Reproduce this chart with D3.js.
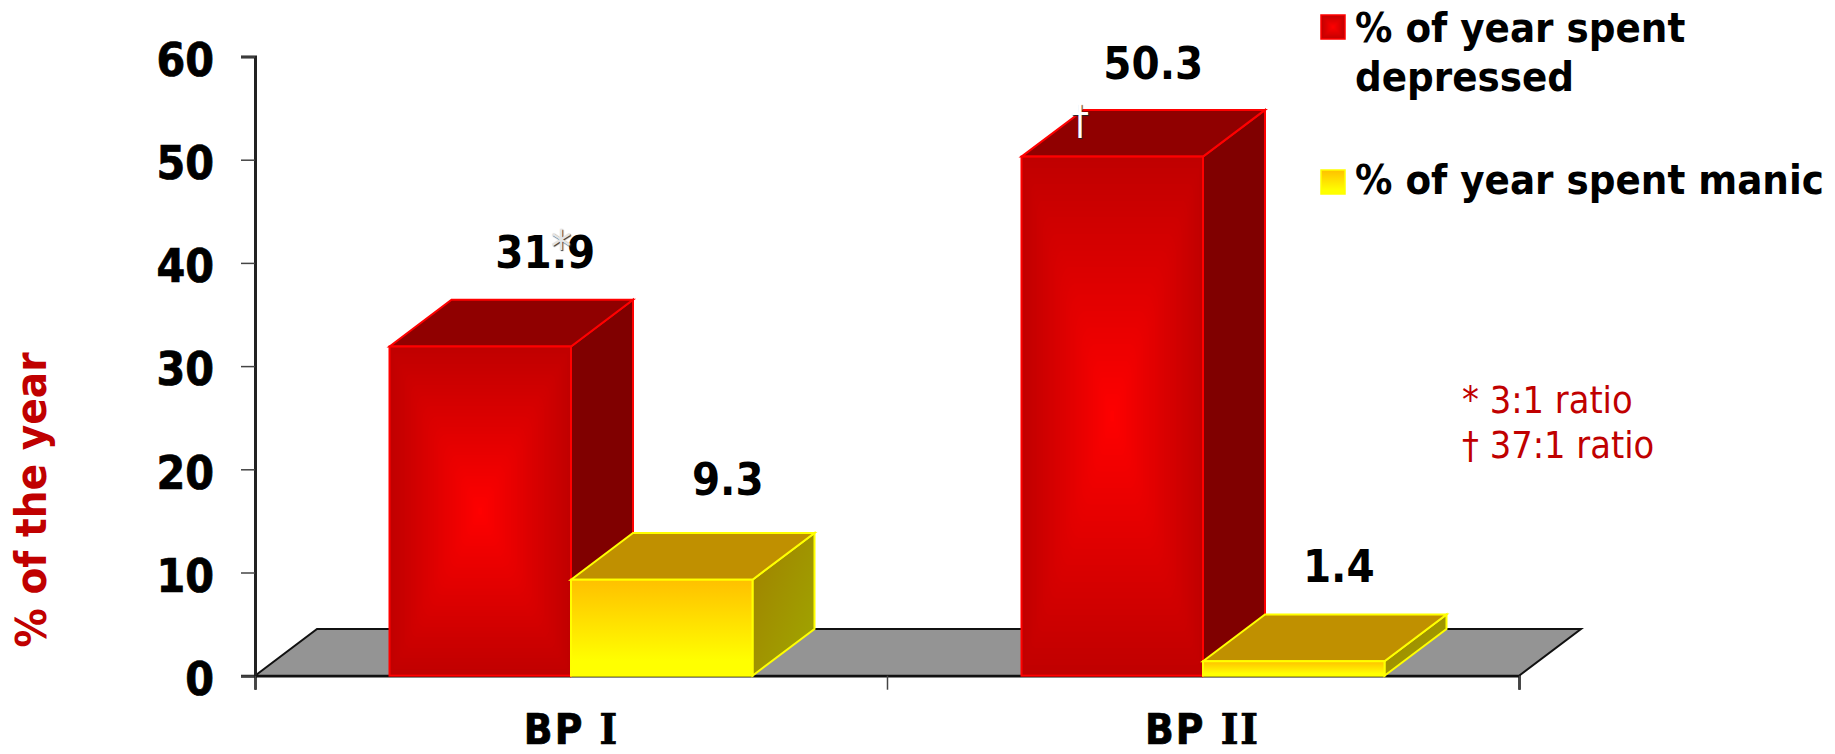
<!DOCTYPE html>
<html>
<head>
<meta charset="utf-8">
<script src="https://cdn.jsdelivr.net/npm/d3@7/dist/d3.min.js"></script>
<style>
html, body { margin: 0; padding: 0; background: #fff; }
svg { display: block; }
text { font-family: "DejaVu Sans", Verdana, sans-serif; font-stretch: condensed; }
.strong { font-weight: 700; }
</style>
</head>
<body>
<svg id="chart" width="1835" height="754"></svg>
<script>
// Chart values
const categories = ["BP I", "BP II"];
const seriesNames = ["% of year spent depressed", "% of year spent manic"];
const depressed = [31.9, 50.3];
const manic = [9.3, 1.4];
const yTicks = [0, 10, 20, 30, 40, 50, 60];
const ratioNotes = ["* 3:1 ratio", "† 37:1 ratio"];

// Layout
const axisX = 255, axisRight = 1519, y0 = 675.7, yTop = 56.5;
const depthX = 62, depthY = 46.7;
const barWidth = 181.5;
const burgundy = "#c00000";

const svg = d3.select("#chart");
const y = d3.scaleLinear().domain([0, 60]).range([y0, yTop]);
const xBand = d3.scaleBand().domain(categories).range([axisX, axisRight]);
const xSeries = d3.scaleBand().domain(seriesNames)
  .range([xBand.bandwidth() / 2 - barWidth, xBand.bandwidth() / 2 + barWidth]);
const polygon = pts => "M" + pts.map(p => p.join(",")).join("L") + "Z";

// Gradients for the yellow bar faces
const defs = svg.append("defs");
const yellowFace = defs.append("linearGradient").attr("id", "yellowFace")
  .attr("x1", 0).attr("y1", 0).attr("x2", 0).attr("y2", 1);
yellowFace.append("stop").attr("offset", 0).attr("stop-color", "#ffc000");
yellowFace.append("stop").attr("offset", 0.85).attr("stop-color", "#ffff00");
const yellowSide = defs.append("linearGradient").attr("id", "yellowSide")
  .attr("x1", 0).attr("y1", 0).attr("x2", 1).attr("y2", 1);
yellowSide.append("stop").attr("offset", 0).attr("stop-color", "#a08000");
yellowSide.append("stop").attr("offset", 0.8).attr("stop-color", "#a0a000");

// Red faces glow outward from the centre in nested rectangles
const glow = d3.interpolateRgb("#c00000", "#ff0000");
function fillGlow(g, x, top, w, h) {
  const steps = 48;
  d3.range(steps).forEach(i => {
    const t = i / (steps - 1);
    const k = Math.max(1 - t, 0.02);
    const corner = 0.2 * t;
    g.append("rect")
      .attr("x", x + w / 2 - w * k / 2).attr("y", top + h / 2 - h * k / 2)
      .attr("width", w * k).attr("height", h * k)
      .attr("rx", w * k * corner).attr("ry", h * k * corner)
      .attr("fill", glow(t));
  });
}

// Floor of the 3D plot
svg.append("path")
  .attr("d", polygon([[axisX, y0], [axisX + depthX, y0 - depthY], [axisRight + depthX, y0 - depthY], [axisRight, y0]]))
  .attr("fill", "#949494").attr("stroke", "#111").attr("stroke-width", 2);

// Axes
const yAxis = d3.axisLeft(y).tickValues(yTicks).tickSize(14).tickPadding(27);
const yG = svg.append("g").attr("transform", `translate(${axisX},0)`).call(yAxis);
yG.select(".domain").attr("stroke", "#222").attr("stroke-width", 3);
yG.selectAll(".tick line").attr("stroke", "#444").attr("stroke-width", 1.5);
yG.selectAll(".tick text").attr("class", "strong")
  .style("font-family", '"DejaVu Sans", sans-serif')
  .style("font-size", "46px").attr("fill", "#000").attr("stroke", "#000").attr("stroke-width", 0.7)
  .attr("dy", "0.41em");

const xEdges = d3.scaleLinear().domain([0, categories.length]).range([axisX, axisRight]);
const xAxis = d3.axisBottom(xEdges).tickValues(d3.range(categories.length + 1))
  .tickSize(14).tickFormat("");
const xG = svg.append("g").attr("transform", `translate(0,${y0})`).call(xAxis);
xG.select(".domain").attr("stroke", "#111").attr("stroke-width", 2.5);
xG.selectAll(".tick line").attr("stroke", "#444").attr("stroke-width", 1.5);

// Category names; the numeral is set in a slab face
categories.forEach(cat => {
  const [prefix, numeral] = cat.split(" ");
  const t = svg.append("text").attr("class", "strong")
    .attr("x", xBand(cat) + xBand.bandwidth() / 2 + (numeral.length === 1 ? 0.5 : -0.5))
    .attr("y", 744).attr("text-anchor", "middle")
    .attr("font-size", 42).attr("letter-spacing", 2)
    .attr("fill", "#000").attr("stroke", "#000").attr("stroke-width", 0.7);
  t.append("tspan").text(prefix + " ");
  t.append("tspan").style("font-family", '"DejaVu Serif", serif').text(numeral);
});

// Bars: a front face, a top face and a side face for each value
function drawBar(g, cat, seriesName, value, colors) {
  const left = xBand(cat) + xSeries(seriesName);
  const right = left + xSeries.bandwidth();
  const top = y(value), base = y(0);
  g.append("path")
    .attr("d", polygon([[right, base], [right + depthX, base - depthY], [right + depthX, top - depthY], [right, top]]))
    .attr("fill", colors.side).attr("stroke", colors.edge).attr("stroke-width", 2);
  g.append("path")
    .attr("d", polygon([[left, top], [left + depthX, top - depthY], [right + depthX, top - depthY], [right, top]]))
    .attr("fill", colors.top).attr("stroke", colors.edge).attr("stroke-width", 2);
  if (colors.glow) fillGlow(g, left, top, right - left, base - top);
  g.append("rect")
    .attr("x", left).attr("y", top).attr("width", right - left).attr("height", base - top)
    .attr("fill", colors.front).attr("stroke", colors.edge).attr("stroke-width", 2);
}
const redColors = { front: "none", glow: true, top: "#900000", side: "#800000", edge: "#ff0000" };
const yellowColors = { front: "url(#yellowFace)", top: "#c09000", side: "url(#yellowSide)", edge: "#ffff00" };
categories.forEach((cat, i) => {
  const g = svg.append("g");
  drawBar(g, cat, seriesNames[0], depressed[i], redColors);
  drawBar(g, cat, seriesNames[1], manic[i], yellowColors);
});

// Value labels, nudged by hand to sit clear of the 3D tops
const labelShift = [[[65, 78], [66, 85]], [[41, 78], [45, 79]]];
categories.forEach((cat, i) => {
  [depressed[i], manic[i]].forEach((v, s) => {
    svg.append("text").attr("class", "strong")
      .attr("x", xBand(cat) + xSeries(seriesNames[s]) + xSeries.bandwidth() / 2 + labelShift[i][s][0])
      .attr("y", y(v) - labelShift[i][s][1])
      .attr("text-anchor", "middle").attr("font-size", 45).attr("fill", "#000")
      .text(v.toFixed(1));
  });
});

// Significance marks laid over the labels and the tall bar
svg.append("text").attr("x", 561).attr("y", 263).attr("text-anchor", "middle")
  .attr("font-size", 46).attr("fill", "#e4e4e4").style("text-shadow", "1px 1px 1px #333").text("*");
svg.append("text").attr("x", 1080).attr("y", 134).attr("text-anchor", "middle")
  .attr("font-size", 40).attr("fill", "#fff").style("text-shadow", "1px 1px 1px #222").text("†");

// Legend
const legendLines = [["% of year spent", "depressed"], ["% of year spent manic"]];
const legendSwatchY = [15, 170], legendTextY = [42, 194];
legendLines.forEach((lines, i) => {
  const g = svg.append("g");
  if (i === 0) fillGlow(g, 1321, legendSwatchY[i], 24, 24);
  g.append("rect").attr("x", 1321).attr("y", legendSwatchY[i]).attr("width", 24).attr("height", 24)
    .attr("fill", i === 0 ? "none" : "url(#yellowFace)")
    .attr("stroke", i === 0 ? "#ff0000" : "#ffff00").attr("stroke-width", 1.5);
  lines.forEach((line, j) => {
    svg.append("text").attr("class", "strong").attr("x", 1355).attr("y", legendTextY[i] + j * 49)
      .attr("font-size", 41.5).attr("fill", "#000").text(line);
  });
});

// Ratio notes
ratioNotes.forEach((note, i) => {
  svg.append("text").attr("x", 1462).attr("y", 413 + i * 45)
    .attr("font-size", 37.6).attr("fill", burgundy).text(note);
});

// Vertical axis title
svg.append("text").attr("class", "strong")
  .attr("transform", "translate(46,500) rotate(-90)")
  .attr("text-anchor", "middle").attr("font-size", 43.5).attr("fill", burgundy)
  .text("% of the year");
</script>
</body>
</html>
